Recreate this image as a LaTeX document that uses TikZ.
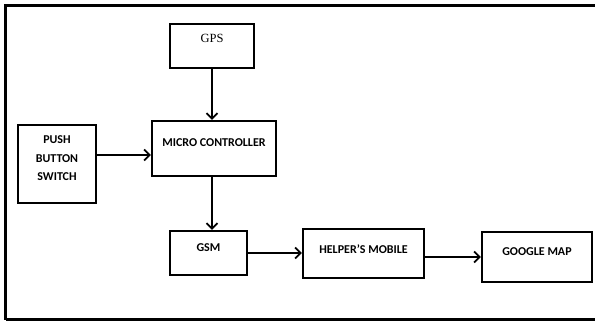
\documentclass[tikz,border=0pt]{standalone}
\usepackage{fontspec}
\setmainfont{Liberation Serif}
\newfontfamily\labelfont{Carlito}
\usetikzlibrary{arrows.meta}
\tikzset{
  x=1pt, y=-1pt,
  box/.style={draw, line width=2.1pt, inner sep=0pt},
  lbl/.style={font=\labelfont\bfseries\fontsize{12}{14}\selectfont, inner sep=0pt, align=center},
  arr/.style={line width=1.9pt, -{Straight Barb[length=5.5pt, width=11pt, line width=1.9pt]}},
}
\begin{document}
\begin{tikzpicture}
\useasboundingbox (0,0) rectangle (595,322);
% outer frame (right side runs past the page edge)
\draw[line width=2.8pt] (5.5,319.5) -- (5.5,5.5) -- (600,5.5);
\draw[line width=2.8pt] (5.5,319.5) -- (600,319.5);

% blocks
\node[box, minimum width=84pt, minimum height=44pt] (gps) at (212,46) {};
\node[box, minimum width=124pt, minimum height=55pt] (micro) at (214,148.5) {};
\node[box, minimum width=78pt, minimum height=78pt] (push) at (57,164) {};
\node[box, minimum width=77pt, minimum height=44pt] (gsm) at (208.5,253) {};
\node[box, minimum width=121pt, minimum height=49pt] (helper) at (363.5,253.5) {};
\node[box, minimum width=110pt, minimum height=50pt] (gmap) at (537,257) {};

% block captions
\node[inner sep=0pt, font=\fontsize{12.5}{14}\selectfont] (gpst) at (212,38) {GPS};
\node[lbl] (microt) at (214,143) {MICRO CONTROLLER};
\node[lbl] (pusht) at (57,158.5) {PUSH\\[4.5pt]BUTTON\\[4.5pt]SWITCH};
\node[lbl] (gsmt) at (208.5,248) {GSM};
\node[lbl] (helpert) at (363.5,249) {HELPER’S MOBILE};
\node[lbl] (gmapt) at (537,252) {GOOGLE MAP};

% connectors
\draw[arr] (gps.south) -- (gps.south |- micro.north);
\draw[arr] (push.east |- 0,155) -- (micro.west |- 0,155);
\draw[arr] (gps.south |- micro.south) -- (gps.south |- gsm.north);
\draw[arr] (gsm.east |- 0,253) -- (helper.west |- 0,253);
\draw[arr] (helper.east |- 0,257) -- (gmap.west |- 0,257);
\end{tikzpicture}
\end{document}
